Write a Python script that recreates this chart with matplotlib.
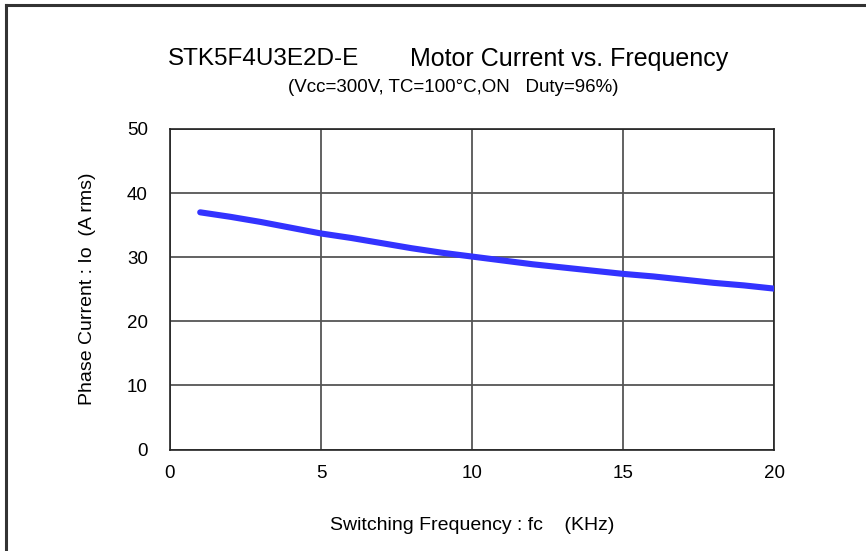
import matplotlib.pyplot as plt
from matplotlib.lines import Line2D

# values
freq_khz = [1, 2, 3, 4, 5, 6, 7, 8, 9, 10, 11, 12, 13, 14, 15, 16, 17, 18, 19, 20]
current_a = [37.0, 36.3, 35.5, 34.6, 33.7, 33.0, 32.2, 31.4, 30.7, 30.1,
             29.5, 28.9, 28.4, 27.9, 27.4, 27.0, 26.5, 26.0, 25.6, 25.1]
x_ticks = [0, 5, 10, 15, 20]
y_ticks = [0, 10, 20, 30, 40, 50]

plt.rcParams['font.family'] = ['Liberation Sans', 'DejaVu Sans']

fig = plt.figure(figsize=(8.66, 5.51), dpi=100)
ax = fig.add_axes([0.1963, 0.1842, 0.6975, 0.5817])

ax.plot(freq_khz, current_a, color='#3333ff', lw=4.4, solid_capstyle='round', zorder=3)

ax.set_xlim(0, 20)
ax.set_ylim(0, 50)
ax.set_xticks(x_ticks)
ax.set_yticks(y_ticks)
ax.tick_params(length=0, labelsize=13.5)
ax.tick_params(axis='x', pad=11)
ax.tick_params(axis='y', pad=16)
ax.grid(True, color='#555555', lw=1.3)
for s in ax.spines.values():
    s.set_color('#222222')
    s.set_linewidth(1.2)

ax.set_xlabel('Switching Frequency : fc    (KHz)', fontsize=14, labelpad=25)
ax.set_ylabel('Phase Current : Io  (A rms)', fontsize=14, labelpad=22)

fig.text(0.194, 0.893, 'STK5F4U3E2D-E', fontsize=17.5, ha='left', va='center')
fig.text(0.473, 0.893, 'Motor Current vs. Frequency', fontsize=18, ha='left', va='center')
fig.text(0.523, 0.842, '(Vcc=300V, TC=100°C,ON   Duty=96%)', fontsize=13.5, ha='center', va='center')

# partial frame (left and top edges) of the original figure
fig.add_artist(Line2D([0.0069, 0.0069], [0, 0.991], color='#333333', lw=2.2))
fig.add_artist(Line2D([0.0069, 1.0], [0.991, 0.991], color='#333333', lw=2.2))

fig.savefig('out.png', dpi=100)
